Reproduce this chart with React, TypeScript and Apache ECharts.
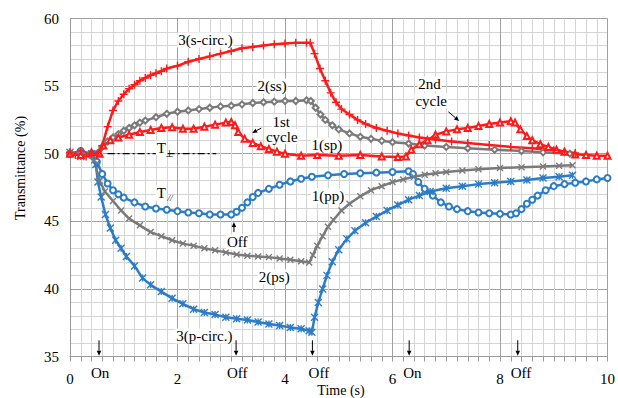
import React, { useEffect, useRef } from "react";
import * as echarts from "echarts";

// ---- Data (time s, transmittance %) ----
const sCirc: number[][] = [
  [0, 50.1], [0.1, 49.9], [0.2, 50.2], [0.3, 49.8], [0.4, 50.0], [0.5, 49.9], [0.6, 50.6],
  [0.7, 52.0], [0.8, 53.2], [0.9, 53.9], [1.0, 54.4], [1.1, 54.8], [1.2, 55.1], [1.3, 55.4],
  [1.4, 55.6], [1.5, 55.8], [1.6, 55.95], [1.7, 56.1], [1.8, 56.3], [2.0, 56.5], [2.2, 56.8],
  [2.4, 57.0], [2.6, 57.2], [2.8, 57.4], [3.0, 57.6], [3.2, 57.8], [3.4, 57.9], [3.6, 58.0],
  [3.8, 58.1], [4.0, 58.15], [4.2, 58.2], [4.4, 58.2], [4.47, 58.2], [4.55, 57.4], [4.65, 56.3],
  [4.75, 55.4], [4.85, 54.5], [4.95, 53.8], [5.05, 53.3], [5.2, 52.9], [5.35, 52.5], [5.5, 52.2],
  [5.7, 51.9], [5.9, 51.7], [6.1, 51.5], [6.3, 51.35], [6.5, 51.2], [6.8, 51.05], [7.1, 50.9],
  [7.4, 50.8], [7.8, 50.65], [8.2, 50.5], [8.6, 50.4], [9.0, 50.25], [9.2, 50.15], [9.4, 50.05],
];

const ss: number[][] = [
  [0, 50.0], [0.2, 50.1], [0.4, 49.9], [0.6, 50.5], [0.7, 50.9], [0.8, 51.2], [0.9, 51.45],
  [1.0, 51.7], [1.1, 51.9], [1.2, 52.1], [1.3, 52.3], [1.4, 52.45], [1.6, 52.7], [1.8, 52.95],
  [2.0, 53.1], [2.2, 53.2], [2.4, 53.3], [2.6, 53.4], [2.8, 53.5], [3.0, 53.55], [3.2, 53.65],
  [3.4, 53.75], [3.6, 53.8], [3.8, 53.85], [4.0, 53.9], [4.2, 53.9], [4.4, 53.95], [4.48, 53.9],
  [4.57, 53.4], [4.66, 52.9], [4.75, 52.5], [4.88, 52.1], [5.0, 51.8], [5.2, 51.5], [5.4, 51.25],
  [5.6, 51.1], [5.8, 50.95], [6.0, 50.85], [6.3, 50.75], [6.6, 50.6], [7.0, 50.5], [7.4, 50.4],
  [7.9, 50.3], [8.4, 50.2], [8.8, 50.1], [9.3, 50.0],
];

const sp: number[][] = [
  [0, 50.0], [0.2, 49.9], [0.4, 50.1], [0.55, 50.0], [0.62, 50.6], [0.75, 51.0], [0.9, 51.2],
  [1.1, 51.4], [1.3, 51.6], [1.5, 51.75], [1.7, 51.9], [1.9, 51.95], [2.1, 51.85], [2.3, 51.85],
  [2.5, 52.0], [2.7, 52.15], [2.9, 52.3], [3.0, 52.35], [3.07, 52.1], [3.13, 51.6], [3.25, 51.1],
  [3.4, 50.8], [3.55, 50.55], [3.7, 50.35], [3.85, 50.15], [4.0, 50.0], [4.3, 49.85], [4.6, 49.9],
  [5.0, 49.85], [5.4, 49.9], [5.8, 49.8], [6.1, 49.75], [6.25, 49.8], [6.35, 50.3], [6.5, 50.7],
  [6.65, 51.0], [6.8, 51.4], [7.0, 51.65], [7.2, 51.8], [7.4, 51.9], [7.6, 52.05], [7.8, 52.2],
  [8.0, 52.3], [8.2, 52.4], [8.28, 52.3], [8.38, 51.8], [8.5, 51.3], [8.6, 51.0], [8.75, 50.7],
  [8.9, 50.5], [9.05, 50.3], [9.2, 50.15], [9.4, 49.95], [9.6, 49.9], [9.8, 49.85], [10, 49.85],
];

const pp: number[][] = [
  [0, 50.0], [0.2, 50.2], [0.4, 50.0], [0.5, 49.4], [0.6, 48.5], [0.7, 47.8], [0.8, 47.3],
  [0.9, 47.0], [1.0, 46.75], [1.2, 46.4], [1.4, 46.1], [1.6, 45.95], [1.8, 45.85], [2.0, 45.75],
  [2.2, 45.65], [2.4, 45.6], [2.6, 45.5], [2.8, 45.5], [3.0, 45.5], [3.1, 45.7], [3.2, 46.0],
  [3.3, 46.4], [3.4, 46.8], [3.5, 47.1], [3.7, 47.4], [3.9, 47.7], [4.1, 47.95], [4.3, 48.15],
  [4.5, 48.3], [4.8, 48.4], [5.1, 48.5], [5.4, 48.55], [5.7, 48.6], [6.0, 48.65], [6.3, 48.7],
  [6.38, 48.5], [6.48, 47.9], [6.6, 47.4], [6.75, 46.9], [6.9, 46.4], [7.05, 46.1], [7.2, 45.9],
  [7.4, 45.75], [7.6, 45.65], [7.8, 45.6], [8.0, 45.55], [8.2, 45.5], [8.3, 45.6], [8.4, 45.9],
  [8.5, 46.3], [8.6, 46.6], [8.7, 46.9], [8.85, 47.3], [9.0, 47.6], [9.2, 47.75], [9.4, 47.85],
  [9.6, 47.95], [9.8, 48.1], [10, 48.2],
];

const ps: number[][] = [
  [0, 50.0], [0.3, 49.9], [0.45, 49.5], [0.55, 48.0], [0.65, 47.2], [0.8, 46.5], [0.95, 45.8],
  [1.1, 45.2], [1.3, 44.7], [1.5, 44.2], [1.7, 43.9], [1.9, 43.6], [2.1, 43.35], [2.3, 43.2],
  [2.5, 43.0], [2.7, 42.85], [2.9, 42.7], [3.1, 42.55], [3.3, 42.45], [3.5, 42.4], [3.7, 42.35],
  [3.9, 42.25], [4.1, 42.15], [4.3, 42.05], [4.45, 41.95], [4.52, 42.5], [4.6, 43.2], [4.7, 43.9],
  [4.8, 44.6], [4.9, 45.1], [5.05, 45.8], [5.2, 46.3], [5.4, 46.85], [5.6, 47.3], [5.8, 47.6],
  [6.0, 47.9], [6.2, 48.1], [6.4, 48.3], [6.6, 48.45], [6.8, 48.55], [7.0, 48.65], [7.3, 48.75],
  [7.6, 48.85], [8.0, 48.95], [8.4, 49.0], [8.8, 49.05], [9.1, 49.1], [9.35, 49.15],
];

const pCirc: number[][] = [
  [0, 50.1], [0.2, 49.8], [0.4, 50.0], [0.48, 49.2], [0.52, 47.9], [0.58, 46.8], [0.66, 45.5],
  [0.75, 44.5], [0.85, 43.6], [0.95, 43.0], [1.05, 42.4], [1.2, 41.7], [1.35, 40.8], [1.5, 40.3],
  [1.7, 39.8], [1.9, 39.3], [2.1, 38.9], [2.3, 38.5], [2.5, 38.25], [2.7, 38.1], [2.9, 37.9],
  [3.1, 37.8], [3.3, 37.7], [3.5, 37.55], [3.7, 37.4], [3.9, 37.3], [4.1, 37.15], [4.3, 37.05],
  [4.45, 36.9], [4.5, 36.8], [4.55, 37.9], [4.62, 39.0], [4.7, 40.0], [4.78, 41.0], [4.88, 42.0],
  [5.0, 42.9], [5.15, 43.7], [5.3, 44.3], [5.5, 44.9], [5.7, 45.35], [5.9, 45.8], [6.1, 46.2],
  [6.3, 46.6], [6.5, 46.9], [6.7, 47.2], [7.0, 47.45], [7.3, 47.6], [7.6, 47.75], [7.9, 47.85],
  [8.2, 47.95], [8.5, 48.05], [8.8, 48.2], [9.1, 48.3], [9.35, 48.4],
];

const refLine: number[][] = [[0.7, 50], [2.72, 50]];

// Switching events below the axis
const switchTimes: number[] = [0.54, 3.09, 4.51, 6.31, 8.33];
const switchLabels: string[] = ["On", "Off", "Off", "On", "Off"];
const switchLabelTimes: number[] = [0.56, 3.11, 4.63, 6.37, 8.39];

// Curve labels: [text, t, y]
const curveLabels: [string, number, number][] = [
  ["3(s-circ.)", 2.52, 58.41],
  ["2(ss)", 3.76, 55.0],
  ["1st", 3.93, 52.36],
  ["cycle", 3.94, 51.27],
  ["1(sp)", 4.78, 50.64],
  ["2nd", 6.69, 55.16],
  ["cycle", 6.72, 53.9],
  ["1(pp)", 4.80, 46.87],
  ["Off", 3.11, 43.47],
  ["2(ps)", 3.80, 40.88],
  ["3(p-circ.)", 2.5, 36.52],
];

const FONT = "Liberation Serif";
const RED = "#ff1a1a";
const GRAY = "#7a7a7a";
const BLUE = "#2b7cc6";

const PLUS = "path://M5,0L5,10M0,5L10,5";
const CROSS = "path://M0,0L10,10M10,0L0,10";
const STAR = "path://M0,0L10,10M10,0L0,10M5,0L5,10";

function arrowEls(p0: number[], p1: number[], head = 5) {
  const dx = p1[0] - p0[0], dy = p1[1] - p0[1];
  const len = Math.hypot(dx, dy) || 1;
  const ux = dx / len, uy = dy / len;
  const bx = p1[0] - ux * head, by = p1[1] - uy * head;
  const nx = -uy * head * 0.45, ny = ux * head * 0.45;
  return [
    { type: "line", silent: true, z: 100, shape: { x1: p0[0], y1: p0[1], x2: bx, y2: by }, style: { stroke: "#000", lineWidth: 1 } },
    { type: "polygon", silent: true, z: 100, shape: { points: [[p1[0], p1[1]], [bx + nx, by + ny], [bx - nx, by - ny]] }, style: { fill: "#000" } },
  ];
}

function txt(text: string, p: number[], size = 15, bg = true, extra: any = {}) {
  return {
    type: "text",
    silent: true,
    x: p[0],
    y: p[1],
    z: 100,
    style: {
      text,
      fontFamily: FONT,
      fontSize: size,
      fill: "#000",
      align: "center",
      verticalAlign: "middle",
      backgroundColor: bg ? "#fff" : undefined,
      padding: bg ? [0, 1] : 0,
      ...extra,
    },
  };
}

function mkSeries(name: string, data: number[][], color: string, symbol: string, size: number, stroke: boolean) {
  return {
    name,
    type: "line",
    data,
    symbol,
    symbolSize: size,
    showSymbol: true,
    showAllSymbol: true,
    lineStyle: { color, width: 2.5 },
    itemStyle: stroke
      ? { color, borderColor: color, borderWidth: 1.4 }
      : { color, borderWidth: 1.3 },
    z: 3,
  };
}

export default function App() {
  const ref = useRef<HTMLDivElement>(null);
  useEffect(() => {
    document.body.style.margin = "0";
    if (!ref.current) return;
    const chart = echarts.init(ref.current, undefined, { renderer: "svg" });
    const axisLabelStyle = { fontFamily: FONT, fontSize: 15, color: "#000" };
    chart.setOption({
      animation: false,
      backgroundColor: "#fff",
      textStyle: { fontFamily: FONT },
      grid: { left: 70, top: 18.5, width: 540, height: 338, containLabel: false },
      xAxis: {
        type: "value",
        min: 0,
        max: 10,
        interval: 2,
        axisLine: { show: true, onZero: false, lineStyle: { color: "#999", width: 1 } },
        axisTick: { show: true, length: 5, lineStyle: { color: "#999" } },
        minorTick: { show: true, splitNumber: 10, length: 5, lineStyle: { color: "#999" } },
        splitLine: { show: true, lineStyle: { color: "#a0a0a0", width: 1 } },
        minorSplitLine: { show: true, lineStyle: { color: "#d4d4d4", width: 1 } },
        axisLabel: { ...axisLabelStyle, margin: 15 },
      },
      yAxis: {
        type: "value",
        min: 35,
        max: 60,
        interval: 5,
        axisLine: { show: true, onZero: false, lineStyle: { color: "#999", width: 1 } },
        axisTick: { show: false },
        minorTick: { show: false, splitNumber: 5 },
        splitLine: { show: true, lineStyle: { color: "#a0a0a0", width: 1 } },
        minorSplitLine: { show: true, lineStyle: { color: "#d4d4d4", width: 1 } },
        axisLabel: { ...axisLabelStyle, margin: 11 },
      },
      series: [
        mkSeries("1(pp)", pp, BLUE, "emptyCircle", 6, false),
        mkSeries("3(p-circ.)", pCirc, BLUE, STAR, 7, true),
        mkSeries("2(ps)", ps, GRAY, CROSS, 6, true),
        mkSeries("2(ss)", ss, GRAY, "emptyDiamond", 6, false),
        mkSeries("1(sp)", sp, RED, "emptyTriangle", 6, false),
        mkSeries("3(s-circ.)", sCirc, RED, PLUS, 8, true),
        {
          name: "ref",
          type: "line",
          data: refLine,
          symbol: "none",
          lineStyle: { color: "#000", width: 1.3, type: [7, 3, 2, 3] },
          z: 4,
        },
      ],
    });

    const P = (t: number, y: number) => chart.convertToPixel({ gridIndex: 0 }, [t, y]) as number[];
    const g: any[] = [];
    curveLabels.forEach(([text, t, y]) => g.push(txt(text, P(t, y))));
    // T perpendicular and T parallel
    g.push(txt("T", P(1.70, 50.42), 15, true));
    g.push(txt("\u22a5", P(1.86, 50.05), 10, false));
    g.push(txt("T", P(1.70, 47.09), 15, true));
    g.push(txt("//", P(1.86, 46.75), 9, false, { fontStyle: "italic" }));
    // annotation arrows
    g.push(...arrowEls(P(3.56, 51.9), P(3.39, 51.53), 5));
    g.push(...arrowEls(P(7.04, 53.1), P(7.24, 52.42), 5));
    g.push(...arrowEls(P(3.05, 44.2), P(3.05, 44.95), 5));
    // switch arrows and labels below the axis
    switchTimes.forEach((t, i) => {
      g.push(...arrowEls(P(t, 36.2), P(t, 35.05), 5));
      g.push(txt(switchLabels[i], P(switchLabelTimes[i], 33.75), 15, false));
    });
    // axis titles
    g.push({
      type: "text", silent: true, x: 20, y: 168, rotation: Math.PI / 2,
      style: { text: "Transmittance (%)", fontFamily: FONT, fontSize: 14, fill: "#000", align: "center", verticalAlign: "middle" },
    });
    g.push({
      type: "text", silent: true, x: 341, y: 397,
      style: { text: "Time (s)", fontFamily: FONT, fontSize: 14, fill: "#000", align: "center", verticalAlign: "bottom" },
    });
    chart.setOption({ graphic: g });
    return () => chart.dispose();
  }, []);
  return <div ref={ref} style={{ width: 618, height: 398, position: "fixed", left: 0, top: 0 }} />;
}
